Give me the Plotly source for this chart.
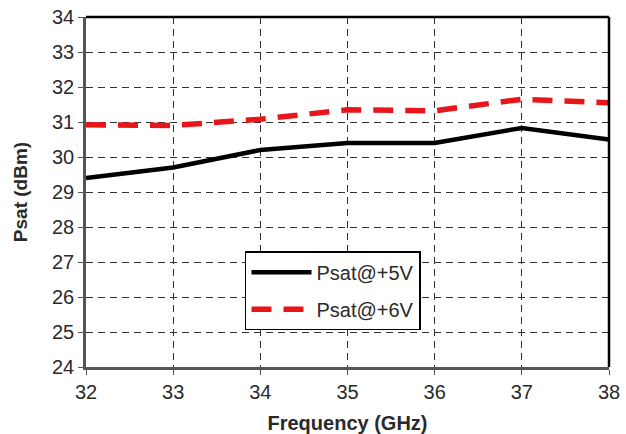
import plotly.graph_objects as go

freq = [32, 33, 34, 35, 36, 37, 38]
psat_5v = [29.4, 29.7, 30.2, 30.4, 30.4, 30.83, 30.5]
psat_6v = [30.92, 30.9, 31.08, 31.35, 31.32, 31.65, 31.55]
x_ticks = [32, 33, 34, 35, 36, 37, 38]
y_ticks = list(range(24, 35))

fig = go.Figure()
fig.add_trace(go.Scatter(x=freq, y=psat_5v, mode="lines", name="Psat@+5V",
                         legendgroup="a",
                         line=dict(color="#000000", width=4.5)))
fig.add_trace(go.Scatter(x=freq, y=psat_6v, mode="lines", name="Psat@+6V",
                         legendgroup="b",
                         line=dict(color="#e8151b", width=5.5, dash="20px,12px")))

font = "Liberation Sans, Arial, sans-serif"
fig.update_layout(
    width=626, height=434,
    margin=dict(l=86, r=17, t=17, b=67),
    paper_bgcolor="white", plot_bgcolor="white",
    font=dict(family=font, size=20, color="#2a2a2a"),
    legend=dict(x=0.304, y=0.331, xanchor="left", yanchor="top",
                bgcolor="white", bordercolor="#000000", borderwidth=1.5,
                font=dict(size=20, color="#2a2a2a"), itemwidth=60,
                tracegroupgap=8),
    showlegend=True,
)
fig.update_xaxes(range=[32, 38], tickvals=x_ticks, showgrid=True,
                 gridcolor="#333333", griddash="7px,5px", gridwidth=1.3,
                 showline=True, linecolor="#555555", linewidth=2.5,
                 mirror=False, ticks="outside", ticklen=5, tickcolor="#555555",
                 zeroline=False, automargin=False,
                 title=dict(text="<b>Frequency (GHz)</b>", font=dict(size=20, color="#2a2a2a"),
                            standoff=20))
fig.update_yaxes(range=[24, 34], tickvals=y_ticks, showgrid=True,
                 gridcolor="#333333", griddash="7px,5px", gridwidth=1.3,
                 showline=True, linecolor="#555555", linewidth=2.5,
                 ticks="outside", ticklen=5, tickcolor="#555555",
                 zeroline=False, automargin=False,
                 title=dict(text="<b>Psat (dBm)</b>", font=dict(size=19, color="#2a2a2a"),
                            standoff=20))
# top and right frame lines (black)
fig.add_shape(type="line", xref="paper", yref="paper", x0=0, x1=1, y0=1, y1=1,
              line=dict(color="#000000", width=2.5))
fig.add_shape(type="line", xref="paper", yref="paper", x0=1, x1=1, y0=0, y1=1,
              line=dict(color="#000000", width=2.5))

fig.write_html("out.html")
